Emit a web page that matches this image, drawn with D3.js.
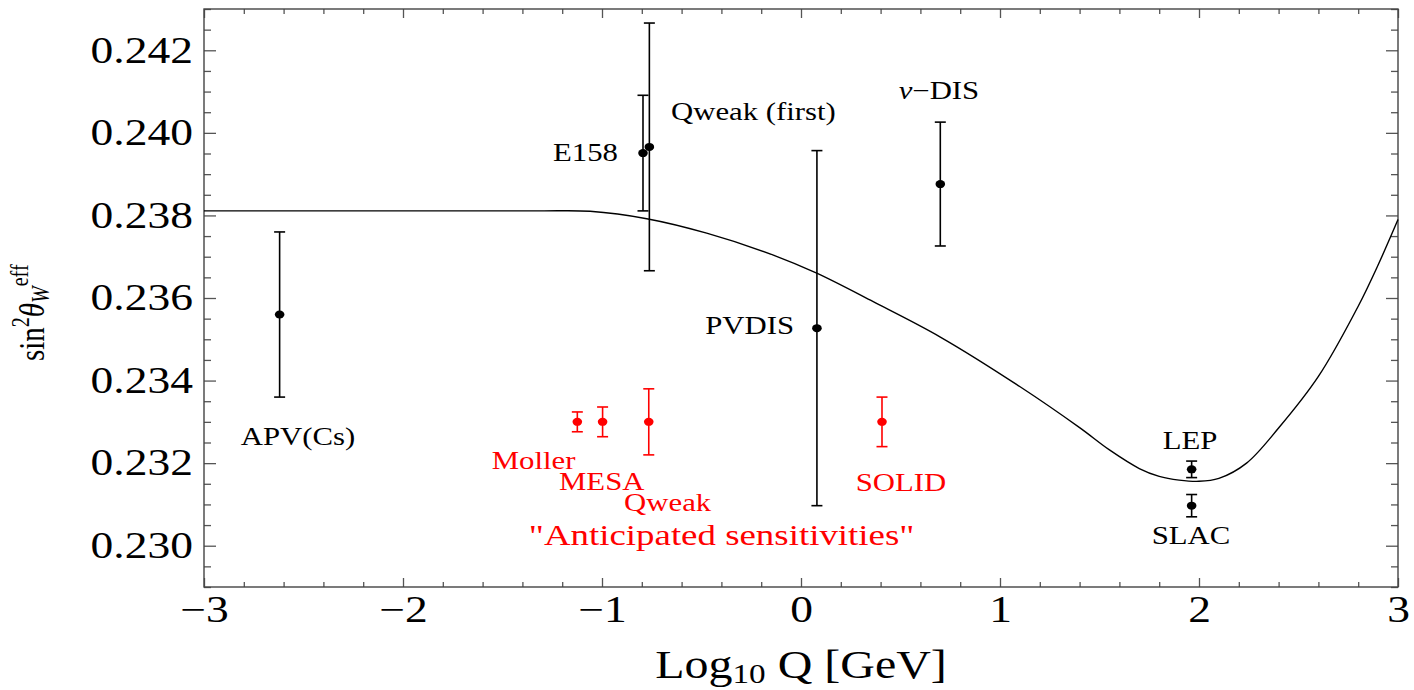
<!DOCTYPE html>
<html>
<head>
<meta charset="utf-8">
<script src="https://cdn.jsdelivr.net/npm/d3@7"></script>
<style>
  body { margin: 0; background: #fff; }
  text { font-family: "Liberation Serif", "DejaVu Serif", serif; }
</style>
</head>
<body>
<svg id="chart" width="1414" height="690"></svg>
<script>
// measured experiments (black)
var expNames = ["APV(Cs)", "E158", "Qweak (first)", "PVDIS", "nu-DIS", "LEP", "SLAC"];
var expLogQ  = [-2.62, -0.794, -0.762, 0.08, 0.70, 1.963, 1.963];
var expSin2  = [0.2356, 0.23951, 0.23966, 0.23527, 0.23876, 0.23185, 0.23097];
var expErr   = [0.0020, 0.0014, 0.0030, 0.0043, 0.0015, 0.0002, 0.00027];

// anticipated sensitivities (red)
var futNames = ["Moller", "MESA", "Qweak", "SOLID"];
var futLogQ  = [-1.124, -0.997, -0.765, 0.407];
var futSin2  = [0.2330, 0.2330, 0.2330, 0.2330];
var futErr   = [0.00024, 0.00036, 0.0008, 0.0006];

// running of sin^2 theta_W
var curveLogQ = [-3, -2.5, -2, -1.6, -1.3, -1.06, -0.775, -0.474, -0.139, 0.079, 0.363, 0.698,
                 1.101, 1.4, 1.55, 1.7, 1.8, 1.9, 2.0, 2.1, 2.239, 2.4, 2.6, 2.8, 2.9, 3.0];
var curveSin2 = [0.23811, 0.23811, 0.23811, 0.23811, 0.23811, 0.23810, 0.23792, 0.23757, 0.23704,
                 0.2366, 0.23591, 0.23506, 0.23385, 0.23286, 0.23232, 0.23187, 0.23168, 0.23159,
                 0.23156, 0.23163, 0.232, 0.23285, 0.2341, 0.2358, 0.2368, 0.2379];

var xMajor = [-3, -2, -1, 0, 1, 2, 3];
var yMajor = [0.230, 0.232, 0.234, 0.236, 0.238, 0.240, 0.242];

// text anchors in data units
var labels = [
  {t: "APV(Cs)",       x: -2.528, y: 0.23243, a: "middle", c: "#000"},
  {t: "E158",          x: -0.920, y: 0.23932, a: "end",    c: "#000"},
  {t: "Qweak (first)", x: -0.653, y: 0.24032, a: "start",  c: "#000"},
  {t: "PVDIS",         x: -0.035, y: 0.23513, a: "end",    c: "#000"},
  {t: "nu",            x: 0.693,  y: 0.24082, a: "middle", c: "#000"},
  {t: "LEP",           x: 1.955,  y: 0.23234, a: "middle", c: "#000"},
  {t: "SLAC",          x: 1.960,  y: 0.23004, a: "middle", c: "#000"},
  {t: "Moller",        x: -1.554, y: 0.23185, a: "start",  c: "#f00"},
  {t: "MESA",          x: -1.216, y: 0.23134, a: "start",  c: "#f00"},
  {t: "Qweak",         x: -0.889, y: 0.23083, a: "start",  c: "#f00"},
  {t: "SOLID",         x: 0.275,  y: 0.23133, a: "start",  c: "#f00"}
];

var SX = 1.23; // the picture is stretched sideways
var FONT = "Liberation Serif";

var margin = {top: 9, right: 16, bottom: 103, left: 204},
    width = 1414 - margin.left - margin.right,
    height = 690 - margin.top - margin.bottom;

var x = d3.scaleLinear().domain([-3, 3]).range([0, width]);
var y = d3.scaleLinear().domain([0.229, 0.243]).range([height, 0]);

var svg = d3.select("#chart").append("g")
    .attr("transform", "translate(" + margin.left + "," + margin.top + ")");

var xMinor = d3.range(-3, 3.001, 0.2).filter(function(v) { return Math.abs(v - Math.round(v)) > 0.01; });
var yMinor = d3.range(0.229, 0.24301, 0.0005).filter(function(v) { return Math.abs(v * 500 - Math.round(v * 500)) > 0.01; });

function tickStyle(g) {
  g.select(".domain").remove();
  g.selectAll("line").attr("stroke", "#555").attr("stroke-width", 1.3);
}

// minor ticks all round
svg.append("g").attr("transform", "translate(0," + height + ")")
  .call(d3.axisBottom(x).tickValues(xMinor).tickSize(-5).tickFormat("")).call(tickStyle);
svg.append("g")
  .call(d3.axisTop(x).tickValues(xMinor).tickSize(-5).tickFormat("")).call(tickStyle);
svg.append("g")
  .call(d3.axisLeft(y).tickValues(yMinor).tickSize(-7).tickFormat("")).call(tickStyle);
svg.append("g").attr("transform", "translate(" + width + ",0)")
  .call(d3.axisRight(y).tickValues(yMinor).tickSize(-7).tickFormat("")).call(tickStyle);

// major ticks
var xAx = svg.append("g").attr("transform", "translate(0," + height + ")")
  .call(d3.axisBottom(x).tickValues(xMajor).tickSize(-9).tickSizeOuter(0).tickPadding(9)
        .tickFormat(function(d) { return d < 0 ? "\u2212" + (-d) : d; }))
  .call(tickStyle);
svg.append("g")
  .call(d3.axisTop(x).tickValues(xMajor).tickSize(-9).tickFormat("")).call(tickStyle);
var yAx = svg.append("g")
  .call(d3.axisLeft(y).tickValues(yMajor).tickSize(-12).tickSizeOuter(0).tickPadding(11)
        .tickFormat(d3.format(".3f")))
  .call(tickStyle);
svg.append("g").attr("transform", "translate(" + width + ",0)")
  .call(d3.axisRight(y).tickValues(yMajor).tickSize(-12).tickFormat("")).call(tickStyle);

[xAx, yAx].forEach(function(ax) {
  ax.attr("font-family", FONT);
  ax.selectAll("text")
    .attr("font-family", FONT)
    .attr("font-size", 37)
    .attr("fill", "#000")
    .each(function() {
      var t = d3.select(this);
      var tx = +t.attr("x") || 0, ty = +t.attr("y") || 0;
      t.attr("x", 0).attr("y", 0)
       .attr("transform", "translate(" + tx + "," + ty + ") scale(" + SX + ",1)");
    });
});

// frame
svg.append("rect")
  .attr("width", width).attr("height", height)
  .attr("fill", "none").attr("stroke", "#444").attr("stroke-width", 1.4);

// theory curve
var line = d3.line()
  .x(function(d, i) { return x(curveLogQ[i]); })
  .y(function(d) { return y(d); })
  .curve(d3.curveCatmullRom.alpha(0.5));

svg.append("path")
  .datum(curveSin2)
  .attr("fill", "none")
  .attr("stroke", "#000")
  .attr("stroke-width", 1.4)
  .attr("d", line);

// error bars + points
function errorBars(xs, ys, es, color) {
  var g = svg.append("g");
  var cap = 5.5;
  xs.forEach(function(xv, i) {
    var cx = x(xv), lo = y(ys[i] - es[i]), hi = y(ys[i] + es[i]);
    g.append("line").attr("x1", cx).attr("x2", cx).attr("y1", hi).attr("y2", lo)
      .attr("stroke", color).attr("stroke-width", 1.6);
    [hi, lo].forEach(function(cy) {
      g.append("line").attr("x1", cx - cap).attr("x2", cx + cap).attr("y1", cy).attr("y2", cy)
        .attr("stroke", color).attr("stroke-width", 1.6);
    });
    g.append("ellipse").attr("cx", cx).attr("cy", y(ys[i]))
      .attr("rx", 4.8).attr("ry", 4).attr("fill", color);
  });
}
errorBars(expLogQ, expSin2, expErr, "#000");
errorBars(futLogQ, futSin2, futErr, "#f00");

// annotations
function addText(px, py, anchor, size, color) {
  return svg.append("text")
    .attr("transform", "translate(" + px + "," + py + ") scale(" + SX + ",1)")
    .attr("font-family", FONT)
    .attr("text-anchor", anchor)
    .attr("font-size", size)
    .attr("fill", color);
}

labels.forEach(function(l) {
  var t = addText(x(l.x), y(l.y), l.a, 25, l.c);
  if (l.t === "nu") {
    t.append("tspan").attr("font-style", "italic").text("\u03bd");
    t.append("tspan").text("\u2212DIS");
  } else {
    t.text(l.t);
  }
});

addText(x(-0.399), y(0.23002), "middle", 30, "#f00").text("\"Anticipated sensitivities\"");

// x axis label
var xl = addText(width / 2, 669, "middle", 39, "#000");
xl.append("tspan").text("Log");
xl.append("tspan").attr("font-size", 27).attr("dy", 5).text("10");
xl.append("tspan").attr("dy", -5).text(" Q [GeV]");

// y axis label (rotated, stretched across)
var yl = svg.append("text")
  .attr("transform", "translate(" + (44 - margin.left) + "," + (361 - margin.top) + ") scale(" + SX + ",1) rotate(-90)")
  .attr("font-family", FONT)
  .attr("text-anchor", "start")
  .attr("font-size", 29)
  .attr("fill", "#000");
yl.append("tspan").text("sin");
yl.append("tspan").attr("font-size", 20).attr("dy", -12).text("2");
yl.append("tspan").attr("font-style", "italic").attr("dy", 12).text("\u03b8");
yl.append("tspan").attr("font-style", "italic").attr("font-size", 20).attr("dy", 4).text("W");
yl.append("tspan").attr("font-size", 20).attr("dy", -17).text("eff");
</script>
</body>
</html>
